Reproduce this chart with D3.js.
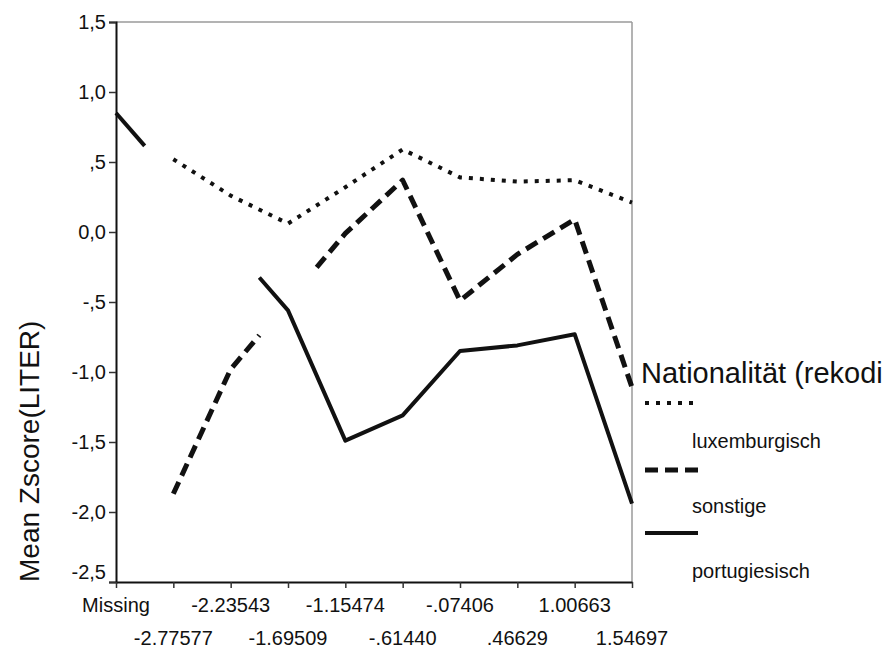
<!DOCTYPE html>
<html>
<head>
<meta charset="utf-8">
<script src="https://cdn.jsdelivr.net/npm/d3@7"></script>
<style>
  html, body { margin: 0; padding: 0; background: #fff; }
  svg { display: block; font-family: Arial, "Liberation Sans", sans-serif; }
</style>
</head>
<body>
<svg id="chart" width="891" height="657"></svg>
<script>
// Category labels along the x axis (Zscore groups)
const categories = ["Missing", "-2.77577", "-2.23543", "-1.69509", "-1.15474",
                    "-.61440", "-.07406", ".46629", "1.00663", "1.54697"];

// Mean Zscore(LITER) per group; null = no cases in that group
const luxemburgisch = [null, 0.52, 0.26, 0.06, 0.32, 0.59, 0.39, 0.36, 0.37, 0.21];
const sonstige      = [null, -1.87, -0.98, null, -0.01, 0.37, -0.49, -0.16, 0.09, -1.11];
const portugiesisch = [0.85, null, null, -0.56, -1.49, -1.31, -0.85, -0.81, -0.73, -1.94];

const yTicks = [1.5, 1.0, 0.5, 0.0, -0.5, -1.0, -1.5, -2.0, -2.5];
const yTickLabels = ["1,5", "1,0", ",5", "0,0", "-,5", "-1,0", "-1,5", "-2,0", "-2,5"];

const legendTitle = "Nationalität (rekodi";
const seriesNames = ["luxemburgisch", "sonstige", "portugiesisch"];
const seriesData = [luxemburgisch, sonstige, portugiesisch];
const seriesDash = ["4 7", "13 7", null];
const seriesWidth = [4, 5, 4];

const svg = d3.select("#chart");
const plotL = 116, plotR = 632, plotT = 22, plotB = 582;

const x = d3.scalePoint().domain(categories).range([plotL, plotR]).padding(0);
const y = d3.scaleLinear().domain([-2.5, 1.5]).range([plotB, plotT]);

// position for a fractional category index
const xAt = i => {
  const a = Math.floor(i), b = Math.ceil(i);
  return d3.interpolateNumber(x(categories[a]), x(categories[b]))(i - a);
};

// Plot frame: light top/right border
svg.append("line").attr("x1", plotL).attr("x2", plotR).attr("y1", plotT).attr("y2", plotT)
  .attr("stroke", "#9a9a9a").attr("stroke-width", 1.5);
svg.append("line").attr("x1", plotR).attr("x2", plotR).attr("y1", plotT).attr("y2", plotB)
  .attr("stroke", "#9a9a9a").attr("stroke-width", 1.5);

// Y axis
const yAxis = svg.append("g").attr("transform", `translate(${plotL},0)`)
  .call(d3.axisLeft(y).tickValues(yTicks).tickSize(7).tickPadding(3)
    .tickFormat((d, i) => yTickLabels[i]));
yAxis.select(".domain").attr("stroke", "#111").attr("stroke-width", 2);
yAxis.selectAll(".tick line").attr("stroke", "#333").attr("stroke-width", 1.5);
yAxis.selectAll(".tick text").attr("font-size", 20).attr("fill", "#111")
  .attr("font-family", "Arial, 'Liberation Sans', sans-serif");
yAxis.selectAll(".tick").filter(d => d === -2.5).select("text").attr("dy", "-0.18em");

// X axis
const xAxis = svg.append("g").attr("transform", `translate(0,${plotB})`)
  .call(d3.axisBottom(x).tickSize(6).tickSizeOuter(0).tickFormat(""));
xAxis.select(".domain").attr("stroke", "#111").attr("stroke-width", 2);
xAxis.selectAll(".tick line").attr("stroke", "#333").attr("stroke-width", 1.5);

// Staggered x tick labels in two rows
svg.append("g").selectAll("text").data(categories).join("text")
  .attr("x", d => x(d))
  .attr("y", (d, i) => i % 2 === 0 ? 612 : 645)
  .attr("text-anchor", "middle")
  .attr("font-size", 20).attr("fill", "#111")
  .text(d => d);

// Y axis title, starting at the bottom of the axis
svg.append("text")
  .attr("transform", `translate(39,${plotB}) rotate(-90)`)
  .attr("text-anchor", "start")
  .attr("font-size", 28).attr("fill", "#111")
  .text("Mean Zscore(LITER)");

// Split a series into drawn pieces: consecutive groups are joined fully;
// across empty groups only the half-step next to each existing point is drawn.
function pieces(vals) {
  const idx = vals.map((v, i) => v == null ? null : i).filter(i => i != null);
  const out = [];
  let cur = null;
  for (let k = 0; k < idx.length - 1; k++) {
    const p = idx[k], n = idx[k + 1];
    if (!cur) { cur = [[p, vals[p]]]; out.push(cur); }
    if (n === p + 1) {
      cur.push([n, vals[n]]);
    } else {
      const t = 0.5 / (n - p);
      cur.push([p + 0.5, vals[p] + (vals[n] - vals[p]) * t]);
      cur = [[n - 0.5, vals[n] - (vals[n] - vals[p]) * t], [n, vals[n]]];
      out.push(cur);
    }
  }
  return out;
}

const line = d3.line().x(d => xAt(d[0])).y(d => y(d[1]));

seriesData.forEach((vals, s) => {
  svg.append("g").selectAll("path").data(pieces(vals)).join("path")
    .attr("d", line)
    .attr("fill", "none")
    .attr("stroke", "#111")
    .attr("stroke-width", seriesWidth[s])
    .attr("stroke-linejoin", "round")
    .attr("stroke-dasharray", seriesDash[s]);
});

// Legend
const lg = svg.append("g");
lg.append("text").attr("x", 641).attr("y", 383)
  .attr("font-size", 29).attr("fill", "#111").text(legendTitle);
const swatchY = [403, 470, 533];
const labelY = [448, 513, 578];
seriesNames.forEach((name, s) => {
  lg.append("line").attr("x1", 645).attr("x2", 698)
    .attr("y1", swatchY[s]).attr("y2", swatchY[s])
    .attr("stroke", "#111").attr("stroke-width", seriesWidth[s])
    .attr("stroke-dasharray", seriesDash[s]);
  lg.append("text").attr("x", 692).attr("y", labelY[s])
    .attr("font-size", 20).attr("fill", "#111").text(name);
});
</script>
</body>
</html>
